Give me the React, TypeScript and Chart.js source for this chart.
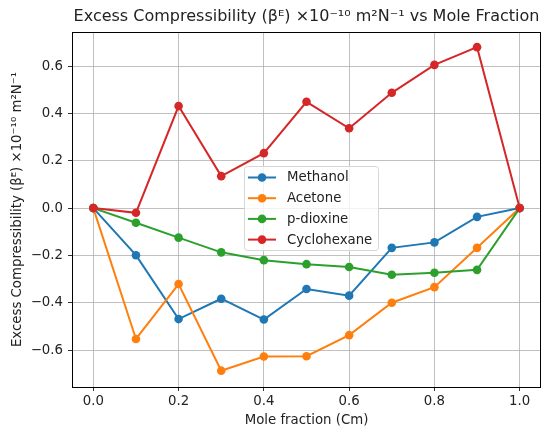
import React, { useEffect, useRef } from "react";
import { Chart, registerables } from "chart.js";

Chart.register(...registerables);

const moleFraction = [0, 0.1, 0.2, 0.3, 0.4, 0.5, 0.6, 0.7, 0.8, 0.9, 1.0];
const methanol = [0, -0.199, -0.469, -0.383, -0.471, -0.342, -0.37, -0.168, -0.145, -0.037, 0];
const acetone = [0, -0.553, -0.321, -0.687, -0.627, -0.626, -0.537, -0.4, -0.334, -0.168, 0];
const pDioxine = [0, -0.062, -0.125, -0.187, -0.22, -0.237, -0.249, -0.282, -0.273, -0.261, 0];
const cyclohexane = [0, -0.02, 0.431, 0.135, 0.232, 0.449, 0.337, 0.487, 0.605, 0.68, 0];

const seriesNames = ["Methanol", "Acetone", "p-dioxine", "Cyclohexane"];
const seriesColors = ["#1f77b4", "#ff7f0e", "#2ca02c", "#d62728"];

const titleText = "Excess Compressibility (\u03B2\u1D31) \u00D710\u207B\u00B9\u2070 m\u00B2N\u207B\u00B9 vs Mole Fraction";
const yTitle = "Excess Compressibility (\u03B2\u1D31) \u00D710\u207B\u00B9\u2070 m\u00B2N\u207B\u00B9";
const xTitle = "Mole fraction (Cm)";

const FONT = "'DejaVu Sans', sans-serif";
const TEXT = "#222";
const FS = 13.3;

const fmt = (v: number) => {
  const s = Math.abs(v).toFixed(1);
  return v < -1e-9 ? "\u2212" + s : s;
};

const framePlugin = {
  id: "frame",
  afterDraw(chart: any) {
    const { ctx, chartArea: a } = chart;
    ctx.save();
    ctx.strokeStyle = "#000";
    ctx.lineWidth = 1;
    ctx.strokeRect(Math.round(a.left) + 0.5, Math.round(a.top) + 0.5, Math.round(a.right - a.left) - 1, Math.round(a.bottom - a.top));
    // title
    ctx.fillStyle = TEXT;
    ctx.font = `16px ${FONT}`;
    ctx.textAlign = "center";
    ctx.textBaseline = "middle";
    ctx.fillText(titleText, (a.left + a.right) / 2, 17);
    // legend
    const bx = 244, by = 166, bw = 134, bh = 84;
    ctx.globalAlpha = 0.8;
    ctx.fillStyle = "#fff";
    ctx.beginPath();
    ctx.roundRect(bx + 0.5, by + 0.5, bw, bh, 3);
    ctx.fill();
    ctx.globalAlpha = 1;
    ctx.strokeStyle = "#d6d6d6";
    ctx.lineWidth = 1;
    ctx.stroke();
    ctx.font = `${FS}px ${FONT}`;
    ctx.textAlign = "left";
    chart.data.datasets.forEach((ds: any, i: number) => {
      const y = by + 11.5 + i * 20.7;
      ctx.strokeStyle = ds.borderColor;
      ctx.lineWidth = 2;
      ctx.beginPath();
      ctx.moveTo(bx + 4, y);
      ctx.lineTo(bx + 32, y);
      ctx.stroke();
      ctx.fillStyle = ds.borderColor;
      ctx.beginPath();
      ctx.arc(bx + 18, y, 4.3, 0, Math.PI * 2);
      ctx.fill();
      ctx.fillStyle = TEXT;
      ctx.fillText(ds.label, bx + 43, y + 0.5);
    });
    ctx.restore();
  },
};

export default function App() {
  const ref = useRef<HTMLCanvasElement>(null);
  useEffect(() => {
    document.body.style.margin = "0";
    const allSeries = [methanol, acetone, pDioxine, cyclohexane];
    const chart = new Chart(ref.current!, {
      type: "line",
      data: {
        datasets: allSeries.map((vals, i) => ({
          label: seriesNames[i],
          data: moleFraction.map((x, j) => ({ x, y: vals[j] })),
          borderColor: seriesColors[i],
          backgroundColor: seriesColors[i],
          pointBackgroundColor: seriesColors[i],
          pointBorderColor: seriesColors[i],
          pointBorderWidth: 0,
          pointRadius: 4.3,
          borderWidth: 2,
          tension: 0,
          fill: false,
          order: 4 - i,
        })),
      },
      options: {
        responsive: false,
        animation: false,
        layout: { padding: { top: 32, right: 6, left: 0, bottom: 0 } },
        plugins: {
          legend: { display: false },
          title: { display: false },
          tooltip: { enabled: false },
        },
        scales: {
          x: {
            type: "linear",
            min: -0.05,
            max: 1.05,
            afterFit: (s: any) => { s.height = 45; },
            ticks: {
              stepSize: 0.2,
              includeBounds: false,
              color: TEXT,
              font: { family: FONT, size: FS },
              padding: 3,
              maxRotation: 0,
              callback: (v: any) => fmt(Number(v)),
            },
            grid: { color: "#b0b0b0", lineWidth: 0.8, tickColor: "#000", tickLength: 4 },
            border: { display: false },
            title: {
              display: true,
              text: xTitle,
              color: TEXT,
              font: { family: FONT, size: FS },
              padding: { top: 0, bottom: 3 },
            },
          },
          y: {
            type: "linear",
            min: -0.756,
            max: 0.744,
            afterFit: (s: any) => { s.width = 72; },
            ticks: {
              stepSize: 0.2,
              includeBounds: false,
              color: TEXT,
              font: { family: FONT, size: FS },
              padding: 5,
              callback: (v: any) => fmt(Number(v)),
            },
            grid: { color: "#b0b0b0", lineWidth: 0.8, tickColor: "#000", tickLength: 4 },
            border: { display: false },
            title: {
              display: true,
              text: yTitle,
              color: TEXT,
              font: { family: FONT, size: FS },
              padding: { top: 10, bottom: 0 },
            },
          },
        },
      },
      plugins: [framePlugin],
    });
    return () => chart.destroy();
  }, []);
  return <canvas ref={ref} width={547} height={432} style={{ display: "block" }} />;
}
